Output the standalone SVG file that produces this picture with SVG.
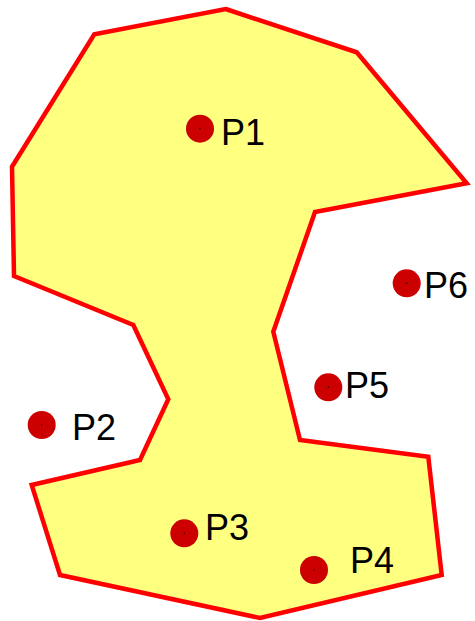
<svg xmlns="http://www.w3.org/2000/svg" width="475" height="621" viewBox="0 0 475 621">
<style>
.poly{fill:#ffff80;stroke:#ff0000;stroke-width:4.5;stroke-linejoin:miter}
.pt{fill:#cc0000}
.c{fill:#000}
.lbl{font-family:"Liberation Sans",Arial,sans-serif;font-size:36px;fill:#000}
</style>
<rect width="475" height="621" fill="#ffffff"/>
<g id="region">
<polygon class="poly" points="225.7,9 356.7,52.3 466.7,183.3 315,212 273.3,331.7 300,440 428.3,456.7 441.7,575 260,618 60,575 31.7,485 140,460 168.3,399.3 133.3,325 14,276 12,166.7 94.3,34.3"/>
</g>
<g id="connectors"></g>
<g id="P1"><circle class="pt" cx="200" cy="128.7" r="14"/><circle class="c" cx="200" cy="128.7" r="0.7"/><text class="lbl" x="221" y="145">P1</text></g>
<g id="P2"><circle class="pt" cx="41.7" cy="425" r="14"/><circle class="c" cx="41.7" cy="425" r="0.7"/><text class="lbl" x="72" y="440">P2</text></g>
<g id="P3"><circle class="pt" cx="184.3" cy="533.3" r="14"/><circle class="c" cx="184.3" cy="533.3" r="0.7"/><text class="lbl" x="205" y="540">P3</text></g>
<g id="P4"><circle class="pt" cx="314" cy="570" r="14"/><circle class="c" cx="314" cy="570" r="0.7"/><text class="lbl" x="350" y="573">P4</text></g>
<g id="P5"><circle class="pt" cx="328.3" cy="387.3" r="14"/><circle class="c" cx="328.3" cy="387.3" r="0.7"/><text class="lbl" x="345" y="398">P5</text></g>
<g id="P6"><circle class="pt" cx="406.7" cy="283.3" r="14"/><circle class="c" cx="406.7" cy="283.3" r="0.7"/><text class="lbl" x="424" y="298">P6</text></g>
</svg>
